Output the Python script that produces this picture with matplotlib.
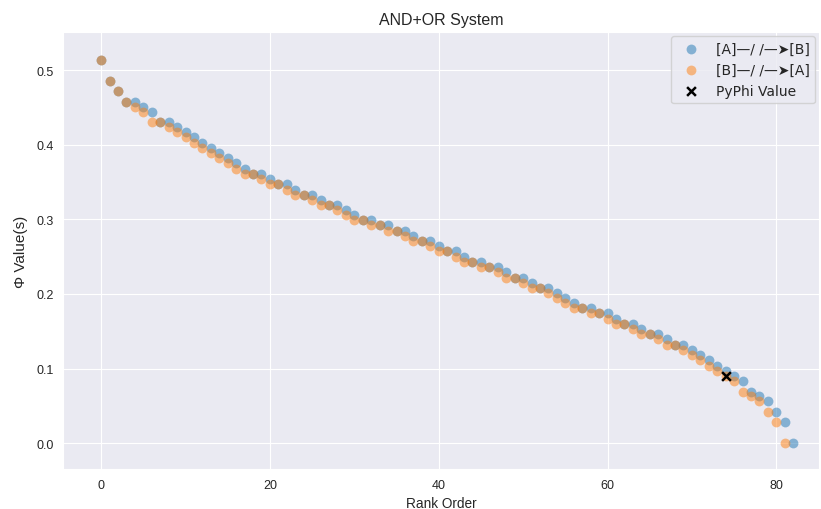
import matplotlib
matplotlib.use("Agg")
import matplotlib.pyplot as plt
import seaborn as sns
import numpy as np

sns.set_style("darkgrid")
plt.rcParams['font.family'] = ['Liberation Sans', 'DejaVu Sans']

title = "AND+OR System"
xlabel = "Rank Order"
ylabel = "\u03a6 Value(s)"
label_ab = "[A]\u2014/ /\u2014\u27a4[B]"
label_ba = "[B]\u2014/ /\u2014\u27a4[A]"
label_pyphi = "PyPhi Value"

phi_ab = [0.514, 0.486, 0.472, 0.458, 0.458, 0.451, 0.444, 0.431, 0.431, 0.424,
          0.417, 0.410, 0.403, 0.396, 0.389, 0.382, 0.375, 0.368, 0.361, 0.361,
          0.354, 0.347, 0.347, 0.340, 0.333, 0.333, 0.326, 0.319, 0.319, 0.313,
          0.306, 0.299, 0.299, 0.292, 0.292, 0.285, 0.285, 0.278, 0.271, 0.271,
          0.264, 0.257, 0.257, 0.250, 0.243, 0.243, 0.236, 0.236, 0.229, 0.222,
          0.222, 0.215, 0.208, 0.208, 0.201, 0.194, 0.188, 0.181, 0.181, 0.174,
          0.174, 0.167, 0.160, 0.160, 0.153, 0.146, 0.146, 0.139, 0.132, 0.132,
          0.125, 0.118, 0.111, 0.104, 0.097, 0.090, 0.083, 0.069, 0.063, 0.056,
          0.042, 0.028, 0.000]

phi_ba = [0.514, 0.486, 0.472, 0.458, 0.451, 0.444, 0.431, 0.431, 0.424,
          0.417, 0.410, 0.403, 0.396, 0.389, 0.382, 0.375, 0.368, 0.361, 0.361,
          0.354, 0.347, 0.347, 0.340, 0.333, 0.333, 0.326, 0.319, 0.319, 0.313,
          0.306, 0.299, 0.299, 0.292, 0.292, 0.285, 0.285, 0.278, 0.271, 0.271,
          0.264, 0.257, 0.257, 0.250, 0.243, 0.243, 0.236, 0.236, 0.229, 0.222,
          0.222, 0.215, 0.208, 0.208, 0.201, 0.194, 0.188, 0.181, 0.181, 0.174,
          0.174, 0.167, 0.160, 0.160, 0.153, 0.146, 0.146, 0.139, 0.132, 0.132,
          0.125, 0.118, 0.111, 0.104, 0.097, 0.090, 0.083, 0.069, 0.063, 0.056,
          0.042, 0.028, 0.000]

pyphi_rank = 74
pyphi_value = 0.090

fig = plt.figure(figsize=(8.21, 5.10), dpi=100)
ax = fig.add_axes([0.077, 0.078, 0.921, 0.857])

ax.scatter(np.arange(len(phi_ab)), phi_ab, s=50, color="#1f77b4", alpha=0.5,
           linewidths=0, label=label_ab)
ax.scatter(np.arange(len(phi_ba)), phi_ba, s=50, color="#ff7f0e", alpha=0.5,
           linewidths=0, label=label_ba)
ax.scatter([pyphi_rank], [pyphi_value], marker="x", color="black", s=40,
           linewidths=1.8, label=label_pyphi, zorder=3)

ax.set_xlim(-4.49, 85.1)
ax.set_ylim(-0.035, 0.551)
ax.set_xticks([0, 20, 40, 60, 80])
ax.set_yticks([0.0, 0.1, 0.2, 0.3, 0.4, 0.5])
ax.tick_params(labelsize=9, colors="#262626")
ax.set_title(title, fontsize=11.5, color="#262626", pad=6)
ax.set_xlabel(xlabel, fontsize=9.8, color="#262626", labelpad=4)
ax.set_ylabel(ylabel, fontsize=11, color="#262626", labelpad=6)

leg = ax.legend(loc="upper right", prop={"family": "DejaVu Sans", "size": 10},
                frameon=True, borderaxespad=0.3)
for t in leg.get_texts():
    t.set_color("#262626")

fig.savefig("out.png", dpi=100)
